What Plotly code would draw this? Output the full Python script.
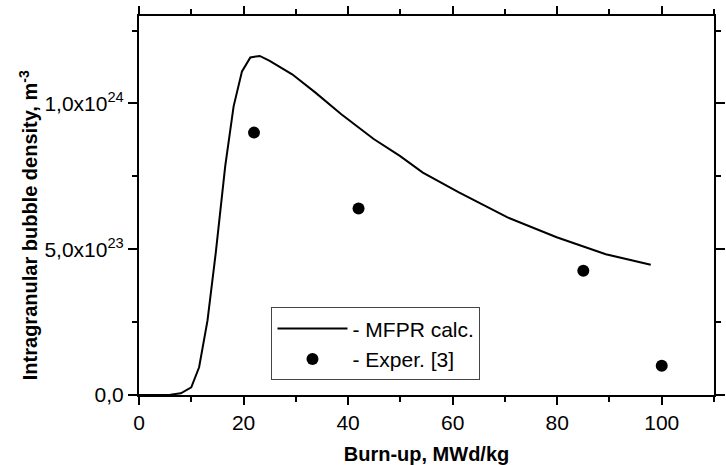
import plotly.graph_objects as go

# Calculated curve (MFPR calc.)
calc_burnup = [0, 2, 4, 6, 8, 10, 11.5, 13.1, 14.7, 16.5, 18.1, 19.7, 21.3, 23.1, 25,
               29.3, 33.7, 38.7, 44.9, 49.9, 54.3, 61.2, 70.5, 79.9, 89.3, 97.9]
calc_density_e24 = [0, 0, 0, 0.001, 0.006, 0.026, 0.095, 0.255, 0.49, 0.786, 0.99, 1.11, 1.158, 1.163, 1.146,
                    1.10, 1.038, 0.963, 0.878, 0.820, 0.763, 0.695, 0.609, 0.541, 0.483, 0.447]

# Experimental points
exp_burnup = [22, 42, 85, 100]
exp_density_e24 = [0.90, 0.64, 0.426, 0.10]

y_tickvals_e24 = [0, 0.5, 1.0]
y_ticktext = ["0,0", "5,0x10<sup>23</sup>", "1,0x10<sup>24</sup>"]
x_tickvals = [0, 20, 40, 60, 80, 100]

FONT = "Liberation Sans, Arial, sans-serif"

fig = go.Figure()
fig.add_trace(go.Scatter(
    x=calc_burnup, y=[v * 1e24 for v in calc_density_e24],
    mode="lines", name="- MFPR calc.",
    line=dict(color="black", width=2),
))
fig.add_trace(go.Scatter(
    x=exp_burnup, y=[v * 1e24 for v in exp_density_e24],
    mode="markers", name="- Exper. [3]",
    marker=dict(color="black", size=12),
))

axis_common = dict(
    showline=True, linecolor="black", linewidth=2, mirror="ticks",
    ticks="outside", tickcolor="black", tickwidth=2,
    showgrid=False, zeroline=False,
    tickfont=dict(family=FONT, size=21, color="black"),
)

fig.update_xaxes(
    **axis_common,
    range=[0, 110], tickvals=x_tickvals, ticklen=8,
    minor=dict(dtick=10, tick0=0, ticks="outside", ticklen=5, tickwidth=2, tickcolor="black"),
    title=dict(text="<b>Burn-up, MWd/kg</b>", font=dict(family=FONT, size=20, color="black"), standoff=16),
)
fig.update_yaxes(
    **axis_common,
    range=[0, 1.3e24], tickvals=[v * 1e24 for v in y_tickvals_e24], ticktext=y_ticktext, ticklen=9,
    minor=dict(dtick=0.25e24, tick0=0, ticks="outside", ticklen=5, tickwidth=2, tickcolor="black"),
)

fig.add_annotation(
    text="<b>Intragranular bubble density, m<sup>-3</sup></b>",
    xref="paper", yref="paper", x=-0.192, y=0.447,
    xanchor="center", yanchor="middle", textangle=-90, showarrow=False,
    font=dict(family=FONT, size=20, color="black"),
)

fig.update_layout(
    width=726, height=465,
    margin=dict(l=139, r=1, t=16, b=69),
    paper_bgcolor="white", plot_bgcolor="white",
    showlegend=True,
    legend=dict(
        x=0.2304, y=0.231, xanchor="left", yanchor="top",
        bordercolor="#444", borderwidth=1, bgcolor="white",
        font=dict(family=FONT, size=21, color="black"),
        itemwidth=70, tracegroupgap=0, entrywidth=160, entrywidthmode="pixels",
    ),
)

fig.write_html("out.html")
